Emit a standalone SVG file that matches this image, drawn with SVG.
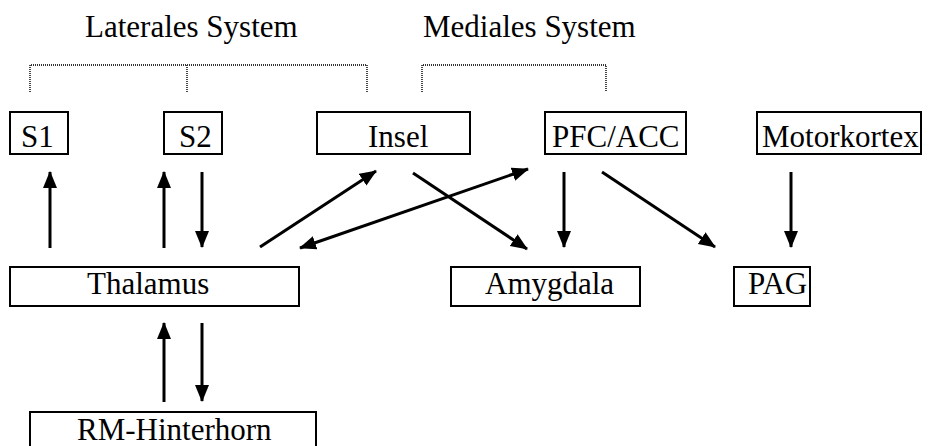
<svg xmlns="http://www.w3.org/2000/svg" width="932" height="446" viewBox="0 0 932 446">
<defs>
<style>
text{font-family:"Liberation Serif","Times New Roman",serif;font-size:31px;fill:#000}
.box{fill:#fff;stroke:#000;stroke-width:2}
.arr{stroke:#000;stroke-width:3;fill:none}
.br{stroke:#333;stroke-width:1.8;stroke-dasharray:1 1;fill:none}
</style>
<marker id="ah" markerUnits="userSpaceOnUse" markerWidth="18" markerHeight="16" refX="16" refY="7" orient="auto-start-reverse" viewBox="0 0 18 14"><path d="M0,0 L17,7 L0,14 z" fill="#000"/></marker>
</defs>
<rect width="932" height="446" fill="#fff"/>
<g id="titles">
<text x="85" y="37">Laterales System</text>
<text x="423" y="37">Mediales System</text>
</g>
<g id="brackets">
<path class="br" d="M30,92 V65 H367 V92 M187,65 V93"/>
<path class="br" d="M422,92 V65 H606 V92"/>
</g>
<g id="S1"><rect class="box" x="10" y="112" width="58" height="42"/><text x="21" y="147">S1</text></g>
<g id="S2"><rect class="box" x="164" y="112" width="58" height="42"/><text x="179" y="147">S2</text></g>
<g id="Insel"><rect class="box" x="317" y="112" width="153" height="42"/><text x="368" y="147">Insel</text></g>
<g id="PFC"><rect class="box" x="545" y="112" width="141" height="42"/><text x="552" y="147">PFC/ACC</text></g>
<g id="Motorkortex"><rect class="box" x="757" y="112" width="164" height="42"/><text x="762" y="147">Motorkortex</text></g>
<g id="Thalamus"><rect class="box" x="10" y="267" width="289" height="39"/><text x="87" y="294">Thalamus</text></g>
<g id="Amygdala"><rect class="box" x="451" y="267" width="189" height="39"/><text x="485" y="294">Amygdala</text></g>
<g id="PAG"><rect class="box" x="734" y="267" width="76" height="39"/><text x="748" y="294">PAG</text></g>
<g id="RM"><rect class="box" x="30" y="412" width="286" height="50"/><text x="77" y="440">RM-Hinterhorn</text></g>
<g id="connectors">
<line class="arr" x1="50" y1="248" x2="50" y2="172" marker-end="url(#ah)"/>
<line class="arr" x1="164" y1="248" x2="164" y2="172" marker-end="url(#ah)"/>
<line class="arr" x1="202" y1="172" x2="202" y2="247" marker-end="url(#ah)"/>
<line class="arr" x1="164" y1="402" x2="164" y2="323" marker-end="url(#ah)"/>
<line class="arr" x1="202" y1="323" x2="202" y2="401" marker-end="url(#ah)"/>
<line class="arr" x1="260" y1="247" x2="376" y2="171" marker-end="url(#ah)"/>
<line class="arr" x1="300" y1="248" x2="528" y2="169" marker-start="url(#ah)" marker-end="url(#ah)"/>
<line class="arr" x1="413" y1="173" x2="527" y2="249" marker-end="url(#ah)"/>
<line class="arr" x1="564" y1="172" x2="564" y2="247" marker-end="url(#ah)"/>
<line class="arr" x1="602" y1="172" x2="715" y2="247" marker-end="url(#ah)"/>
<line class="arr" x1="791" y1="172" x2="791" y2="247" marker-end="url(#ah)"/>
</g>
</svg>
